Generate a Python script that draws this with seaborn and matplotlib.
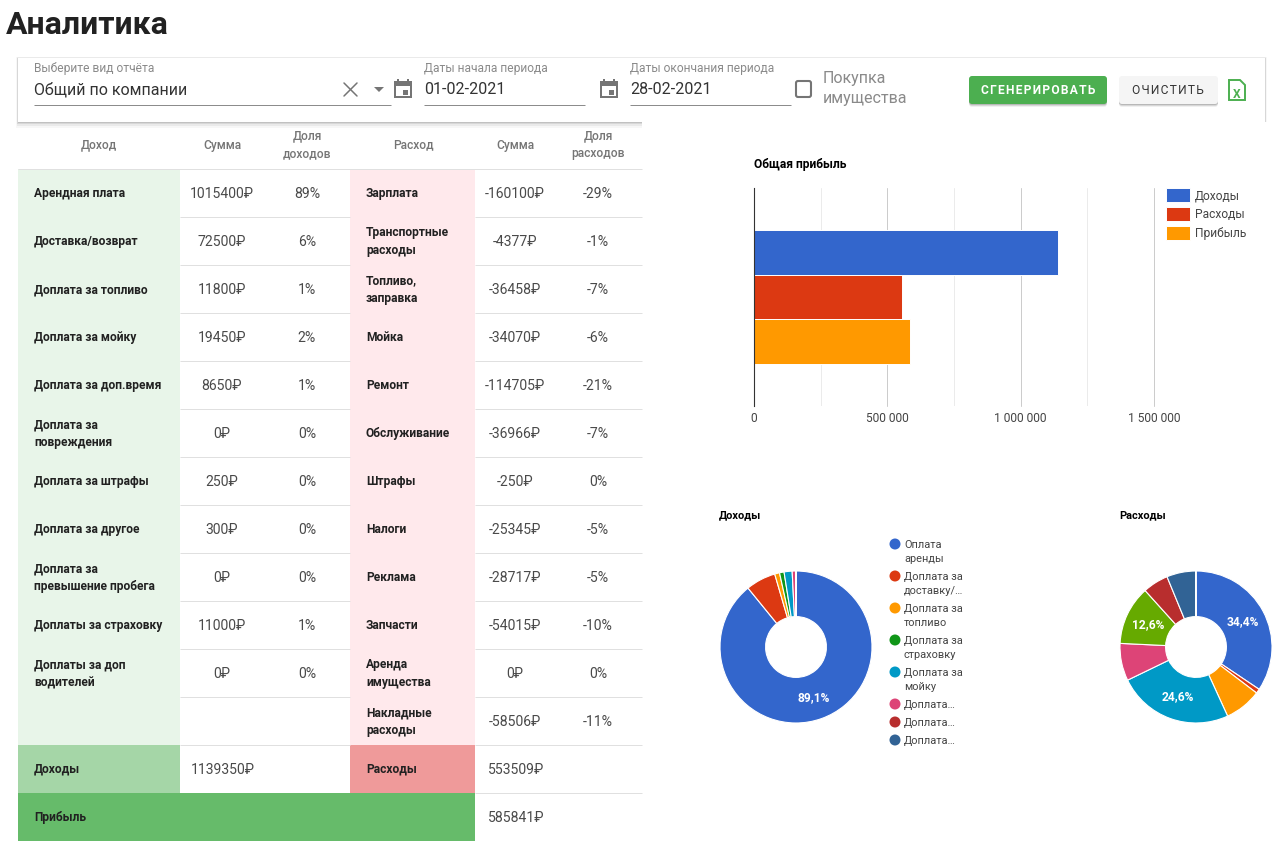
import matplotlib
matplotlib.use("Agg")
import matplotlib.pyplot as plt
import pandas as pd
import seaborn as sns
from matplotlib.patches import Rectangle, FancyBboxPatch, Circle, Polygon

W, H = 1280, 851

income_labels = [["Арендная плата"], ["Доставка/возврат"], ["Доплата за топливо"], ["Доплата за мойку"],
                 ["Доплата за доп.время"], ["Доплата за", "повреждения"], ["Доплата за штрафы"],
                 ["Доплата за другое"], ["Доплата за", "превышение пробега"], ["Доплаты за страховку"],
                 ["Доплаты за доп", "водителей"], []]
income_sums = ["1015400₽", "72500₽", "11800₽", "19450₽", "8650₽", "0₽", "250₽", "300₽", "0₽", "11000₽", "0₽", ""]
income_shares = ["89%", "6%", "1%", "2%", "1%", "0%", "0%", "0%", "0%", "1%", "0%", ""]
expense_labels = [["Зарплата"], ["Транспортные", "расходы"], ["Топливо,", "заправка"], ["Мойка"], ["Ремонт"],
                  ["Обслуживание"], ["Штрафы"], ["Налоги"], ["Реклама"], ["Запчасти"],
                  ["Аренда", "имущества"], ["Накладные", "расходы"]]
expense_sums = ["-160100₽", "-4377₽", "-36458₽", "-34070₽", "-114705₽", "-36966₽", "-250₽", "-25345₽",
                "-28717₽", "-54015₽", "0₽", "-58506₽"]
expense_shares = ["-29%", "-1%", "-7%", "-6%", "-21%", "-7%", "0%", "-5%", "-5%", "-10%", "0%", "-11%"]

bar_series = ["Доходы", "Расходы", "Прибыль"]
bar_values = [1139350, 553509, 585841]
bar_colors = ["#3366cc", "#dc3912", "#ff9900"]
bar_ticks = [0, 500000, 1000000, 1500000]
bar_tick_labels = ["0", "500 000", "1 000 000", "1 500 000"]

income_pie = [1015400, 72500, 11800, 11000, 19450, 8650, 300, 250]
income_colors = ["#3366cc", "#dc3912", "#ff9900", "#109618", "#0099c6", "#dd4477", "#b82e2e", "#316395"]
expense_pie = [160100, 4377, 36458, 114705, 36966, 58506, 25345, 28717, 250]
expense_colors = ["#3366cc", "#dc3912", "#ff9900", "#0099c6", "#dd4477", "#66aa00", "#b82e2e", "#316395", "#994499"]
pie_legend = [["Оплата", "аренды"], ["Доплата за", "доставку/…"], ["Доплата за", "топливо"],
              ["Доплата за", "страховку"], ["Доплата за", "мойку"], ["Доплата…"], ["Доплата…"], ["Доплата…"]]
pie_legend_y = [544, 576, 608, 640, 672, 704, 722, 740]

sns.set_theme(style="white")
plt.rcParams["font.family"] = ["Roboto", "DejaVu Sans"]

fig = plt.figure(figsize=(W / 100, H / 100), dpi=100, facecolor="white")


def px_axes(x0, y0, x1, y1):
    return fig.add_axes([x0 / W, 1 - y1 / H, (x1 - x0) / W, (y1 - y0) / H])


def px_size(px):
    return px * 0.72


# page layer in pixel coordinates
ui = px_axes(0, 0, W, H)
ui.set_xlim(0, W)
ui.set_ylim(H, 0)
ui.axis("off")


def rect(x0, y0, x1, y1, color, **kw):
    ui.add_patch(Rectangle((x0, y0), x1 - x0, y1 - y0, facecolor=color, edgecolor="none", **kw))


def label(x, y, s, px=14, color="#333333", weight="normal", ha="left"):
    ui.text(x, y, s, fontsize=px_size(px), color=color, fontweight=weight, ha=ha, va="center_baseline")


def lines(x, yc, rows, px=12, step=18, **kw):
    top = yc - step * (len(rows) - 1) / 2
    for i, row in enumerate(rows):
        label(x, top + i * step, row, px=px, **kw)


def hline(x0, x1, y, color="#e0e0e0", lw=0.72):
    ui.plot([x0, x1], [y, y], color=color, lw=lw, solid_capstyle="butt")


def spaced(s):
    return "\u200a".join(s)


def calendar(x, y):
    rect(x, y + 2, x + 18, y + 19, "#757575")
    rect(x + 2, y + 7, x + 16, y + 17, "white")
    rect(x + 9, y + 11, x + 14, y + 16, "#757575")
    rect(x + 3, y, x + 5, y + 3, "#757575")
    rect(x + 13, y, x + 15, y + 3, "#757575")


label(6, 21.5, "Аналитика", px=32, color="#212121", weight="bold")

# toolbar with its shadow
for grow, alpha in [(6, 0.03), (4, 0.05), (2, 0.08), (1, 0.1)]:
    rect(18 - grow / 3, 58 - grow / 4, 1265 + grow / 3, 122 + grow, "black", alpha=alpha)
rect(18, 58, 1265, 122, "white")
rect(642, 122, W, H, "white")

label(34, 67, "Выберите вид отчёта", px=12, color="#8a8a8a")
label(34, 88, "Общий по компании", px=16, color="#333333")
hline(34, 391, 105, color="#8c8c8c")
ui.plot([344, 357], [83, 96], color="#757575", lw=1.1)
ui.plot([344, 357], [96, 83], color="#757575", lw=1.1)
ui.add_patch(Polygon([[374, 87], [384, 87], [379, 92]], facecolor="#757575", edgecolor="none"))
calendar(394, 79)
label(424, 67, "Даты начала периода", px=12, color="#8a8a8a")
label(424, 88, "01-02-2021", px=16)
hline(424, 585, 105, color="#8c8c8c")
calendar(600, 79)
label(630, 67, "Даты окончания периода", px=12, color="#8a8a8a")
label(630, 88, "28-02-2021", px=16)
hline(630, 791, 105, color="#8c8c8c")
ui.add_patch(FancyBboxPatch((796, 81), 15, 16, boxstyle="round,pad=0,rounding_size=2",
                            facecolor="white", edgecolor="#757575", lw=1.5))
lines(823, 87.5, ["Покупка", "имущества"], px=16, step=20, color="#8a8a8a")

for x0, x1, face in [(969, 1107, "#4caf50"), (1119, 1218, "#f5f5f5")]:
    for grow, alpha in [(3, 0.06), (2, 0.1), (1, 0.14)]:
        ui.add_patch(FancyBboxPatch((x0, 77 + grow), x1 - x0, 27, boxstyle="round,pad=0,rounding_size=3",
                                    facecolor="black", edgecolor="none", alpha=alpha))
    ui.add_patch(FancyBboxPatch((x0, 76), x1 - x0, 28, boxstyle="round,pad=0,rounding_size=3",
                                facecolor=face, edgecolor="none"))
label(1038, 89, spaced("СГЕНЕРИРОВАТЬ"), px=12, color="white", weight="bold", ha="center")
label(1168, 89, spaced("ОЧИСТИТЬ"), px=12, color="#333333", ha="center")
ui.add_patch(Polygon([[1229, 80], [1240, 80], [1245, 85], [1245, 100], [1229, 100]],
                     facecolor="white", edgecolor="#4caf50", lw=1.4))
label(1237, 93, "X", px=12, color="#4caf50", weight="bold", ha="center")

# table
row_h = 48
first_row = 169
col_sum, col_share = 222, 307
col_sum2, col_share2 = 515, 598
for x, rows in [(99, ["Доход"]), (col_sum, ["Сумма"]), (col_share, ["Доля", "доходов"]),
                (413, ["Расход"]), (col_sum2, ["Сумма"]), (col_share2, ["Доля", "расходов"])]:
    lines(x, 143.5, rows, px=12, color="#757575", weight="medium", ha="center")

rect(18, first_row, 180, first_row + 12 * row_h, "#e8f5e9")
rect(350, first_row, 475, first_row + 12 * row_h, "#ffe9ec")
rect(18, 745, 180, 793, "#a5d6a7")
rect(350, 745, 475, 793, "#ef9a9a")
rect(18, 793, 475, 841, "#66bb6a")

hline(18, 642, first_row)
for i in range(1, 14):
    y = first_row + i * row_h
    if i < 13:
        hline(180, 350, y)
    hline(475, 642, y)

for i in range(12):
    yc = first_row + i * row_h + 24
    lines(34, yc - 1, income_labels[i], color="#212121", weight="bold")
    label(col_sum, yc, income_sums[i], px=14, color="#4a4a4a", ha="center")
    label(col_share, yc, income_shares[i], px=14, color="#4a4a4a", ha="center")
    lines(366, yc - 1, expense_labels[i], color="#212121", weight="bold")
    label(col_sum2, yc, expense_sums[i], px=14, color="#4a4a4a", ha="center")
    label(col_share2, yc, expense_shares[i], px=14, color="#4a4a4a", ha="center")

label(34, 767.5, "Доходы", px=12, color="#212121", weight="bold")
label(191, 769, "1139350₽", px=14, color="#4a4a4a")
label(366, 767.5, "Расходы", px=12, color="#212121", weight="bold")
label(488, 769, "553509₽", px=14, color="#4a4a4a")
label(34, 816.5, "Прибыль", px=12, color="#212121", weight="bold")
label(488, 817, "585841₽", px=14, color="#4a4a4a")

# bar chart
label(754, 163, "Общая прибыль", px=12, color="#000000", weight="bold")
bar_df = pd.DataFrame({"group": [""] * 3, "series": bar_series, "value": bar_values})
ax = px_axes(754, 188, 1154, 406)
sns.barplot(data=bar_df, x="value", y="group", hue="series", hue_order=bar_series, palette=bar_colors,
            width=0.615, saturation=1, edgecolor="white", linewidth=0.7, ax=ax)
ax.set_xlim(0, 1500000)
ax.set_ylim(0.5, -0.5)
ax.set_xlabel("")
ax.set_ylabel("")
ax.set_yticks([])
ax.set_xticks(bar_ticks, bar_tick_labels, fontsize=px_size(12), color="#444444")
ax.set_xticks([250000, 750000, 1250000], minor=True)
ax.tick_params(axis="x", which="both", length=0, pad=4)
ax.grid(axis="x", which="major", color="#cccccc", lw=0.72)
ax.grid(axis="x", which="minor", color="#ebebeb", lw=0.72)
ax.set_axisbelow(True)
for gl in ax.get_xgridlines():
    gl.set_clip_on(False)
for side in ["top", "right", "bottom"]:
    ax.spines[side].set_visible(False)
ax.spines["left"].set_color("#333333")
ax.spines["left"].set_linewidth(0.8)
handles, names = ax.get_legend_handles_labels()
ax.legend(handles, names, loc="upper left", bbox_to_anchor=(1166 / W, 1 - 188 / H),
          bbox_transform=fig.transFigure, frameon=False, fontsize=px_size(12), borderpad=0, borderaxespad=0,
          handlelength=2.0, handleheight=1.43, handletextpad=0.4, labelspacing=0.4, labelcolor="#444444")


# donuts
def pct_label(p):
    return f"{p:.1f}".replace(".", ",") + "%" if p > 10 else ""


def donut(x0, y0, d, values, colors):
    pie_ax = px_axes(x0, y0, x0 + d, y0 + d)
    pie_ax.pie(values, colors=sns.color_palette(colors), startangle=90, counterclock=False, radius=1,
               autopct=pct_label, pctdistance=0.7,
               wedgeprops={"width": 0.6, "edgecolor": "white", "linewidth": 0.8},
               textprops={"color": "white", "fontsize": px_size(12), "fontweight": "bold"})
    pie_ax.set_xlim(-1, 1)
    pie_ax.set_ylim(-1, 1)


label(719, 514, "Доходы", px=11, color="#000000", weight="bold")
donut(720, 571, 152, income_pie, income_colors)
label(1119, 514, "Расходы", px=11, color="#000000", weight="bold")
donut(1120, 571, 152, expense_pie, expense_colors)

for y, rows, color in zip(pie_legend_y, pie_legend, income_colors):
    ui.add_patch(Circle((895, y), 5.5, facecolor=color, edgecolor="none"))
    for i, row in enumerate(rows):
        label(904, y + i * 14, row, px=11, color="#444444")

fig.savefig("out.png", dpi=100)
